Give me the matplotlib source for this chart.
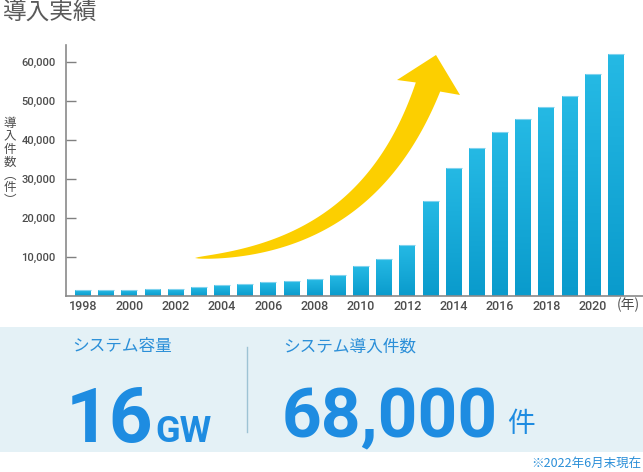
import matplotlib.pyplot as plt
import numpy as np
from matplotlib.patches import Rectangle, Polygon
from matplotlib.colors import LinearSegmentedColormap

# Data
years = list(range(1998, 2022))
installs = [1500, 1500, 1500, 1600, 1700, 2100, 2600, 2900, 3500, 3800, 4300, 5200,
            7500, 9300, 13100, 24200, 32800, 37900, 41900, 45300, 48400, 51200, 56800, 62100]
year_ticks = list(range(1998, 2021, 2))
value_ticks = [10000, 20000, 30000, 40000, 50000, 60000]
value_labels = [f"{v:,}" for v in value_ticks]

title = "導入実績"
ylabel = "導\n入\n件\n数\n︵\n件\n︶"
xunit = "(年)"
capacity_label = "システム容量"
capacity_value = "16"
capacity_unit = "GW"
count_label = "システム導入件数"
count_value = "68,000"
count_unit = "件"
note = "※2022年6月末現在"

JP = ['Noto Sans CJK JP', 'DejaVu Sans']
NUM = ['Roboto', 'DejaVu Sans']
GRAY = '#4d4d4d'
BLUE = '#1e8ce1'

W, H = 643, 472
fig = plt.figure(figsize=(W / 100, H / 100), dpi=100)

# pixel-space overlay for decorations
bg = fig.add_axes([0, 0, 1, 1], zorder=0)
bg.set_xlim(0, W)
bg.set_ylim(H, 0)
bg.axis('off')

ax = fig.add_axes([65.5 / W, 1 - 295.5 / H, (W - 65.5) / W, (295.5 - 45) / H], zorder=1)
ax.patch.set_alpha(0)

# bars with vertical gradient
bars = ax.bar(years, installs, width=0.69, color='none', edgecolor='none')
grad = np.linspace(0, 1, 64).reshape(-1, 1)
cmap = LinearSegmentedColormap.from_list('bar', ['#0a9bcc', '#25b9e4'])
for b in bars:
    x0 = b.get_x()
    x1 = x0 + b.get_width()
    h = b.get_height()
    ax.imshow(grad, extent=(x0, x1, 0, h), origin='lower', aspect='auto', cmap=cmap, zorder=2)
    ax.plot([x0, x1], [h, h], color='#7fd2ee', lw=0.8, zorder=3, solid_capstyle='butt')

ax.set_xlim(1997.245, 2022.17)
ax.set_ylim(0, 64370)
ax.set_xticks(year_ticks)
ax.set_xticklabels([str(y) for y in year_ticks], family=NUM, fontsize=9, fontweight='medium', color=GRAY)
ax.set_yticks(value_ticks)
ax.set_yticklabels(value_labels, family=NUM, fontsize=8, fontweight='medium', color=GRAY)
ax.tick_params(axis='x', length=0, pad=3.5)
ax.tick_params(axis='y', direction='in', length=7, width=1, color='#808080', pad=7)
for s in ['top', 'right']:
    ax.spines[s].set_visible(False)
for s in ['left', 'bottom']:
    ax.spines[s].set_color('#8a8a8a')
    ax.spines[s].set_linewidth(1.2)

# titles and axis texts
bg.text(3, 12, title, family=JP, fontsize=17, color='#5a5a5a', ha='left', va='center')
bg.text(10, 162, ylabel, family=JP, fontsize=9, color=GRAY, ha='center', va='center', linespacing=1.0)
bg.text(628, 305, xunit, family=JP, fontsize=10, color=GRAY, ha='center', va='center')

# rising arrow
P = np.array([[195, 258], [335, 251], [396.5, 171.6], [428, 87]])
t = np.linspace(0, 1, 120)[:, None]
B = (1 - t) ** 3 * P[0] + 3 * (1 - t) ** 2 * t * P[1] + 3 * (1 - t) * t ** 2 * P[2] + t ** 3 * P[3]
dB = 3 * (1 - t) ** 2 * (P[1] - P[0]) + 6 * (1 - t) * t * (P[2] - P[1]) + 3 * t ** 2 * (P[3] - P[2])
n = np.column_stack([-dB[:, 1], dB[:, 0]]) / np.linalg.norm(dB, axis=1)[:, None]
half = 13 * t ** 0.6
upper = B - n * half
lower = B + n * half
head = np.array([[397, 80], [436, 55], [460, 95]])
bg.add_patch(Polygon(np.vstack([upper, head, lower[::-1]]), closed=True,
                     facecolor='#fccf00', edgecolor='none', zorder=1))

# summary band
bg.add_patch(Rectangle((0, 327), W, 125, facecolor='#e4f1f6', edgecolor='none', zorder=0))
bg.plot([247, 247], [347, 432], color='#9dc3d4', lw=1)
bg.text(72, 347, capacity_label, family=JP, fontsize=12, color='#2b8fd8', ha='left', va='center')
bg.text(283, 347, count_label, family=JP, fontsize=12, color='#2b8fd8', ha='left', va='center')
bg.text(66, 442, capacity_value, family=NUM, fontsize=55, fontweight='bold', color=BLUE,
        ha='left', va='baseline')
bg.text(155, 442, capacity_unit, family=NUM, fontsize=26, fontweight='bold', color=BLUE,
        ha='left', va='baseline')
bg.text(282, 437, count_value, family=NUM, fontsize=50, fontweight='bold', color=BLUE,
        ha='left', va='baseline')
bg.text(507, 424, count_unit, family=JP, fontsize=20, color=BLUE, ha='left', va='center')
bg.text(641, 464, note, family=JP, fontsize=9, color='#2b8fd8', ha='right', va='center')

fig.savefig('out.png', dpi=100)
